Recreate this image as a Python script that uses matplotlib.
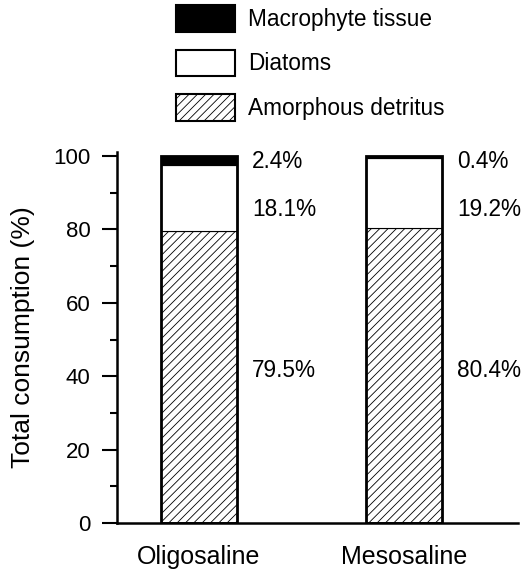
import matplotlib.pyplot as plt
import numpy as np
from matplotlib.patches import Patch

plt.rcParams['font.family'] = ['Liberation Sans', 'DejaVu Sans']
plt.rcParams['hatch.linewidth'] = 0.6
plt.rcParams['hatch.color'] = '#444444'

sites = ['Oligosaline', 'Mesosaline']
detritus = [79.5, 80.4]
diatoms = [18.1, 19.2]
macrophyte = [2.4, 0.4]
series_names = ['Amorphous detritus', 'Diatoms', 'Macrophyte tissue']
label_rows = [41.5, 85.5, 98.5]

fig = plt.figure(figsize=(5.25, 5.73), dpi=100)
ax = fig.add_axes([117 / 525, 1 - 523 / 573, 401 / 525, 371 / 573])

x = np.arange(len(sites))
w = 0.37
det = np.array(detritus)
dia = np.array(diatoms)
mac = np.array(macrophyte)

ax.bar(x, det, w, color='white', edgecolor='black', linewidth=0.8, hatch='////')
ax.bar(x, dia, w, bottom=det, color='white', edgecolor='black', linewidth=0.8)
ax.bar(x, mac, w, bottom=det + dia, color='black', edgecolor='black', linewidth=0.8)
# thick outline round each stack
ax.bar(x, det + dia + mac, w, fill=False, edgecolor='black', linewidth=2.0)

for i in range(len(sites)):
    vals = [detritus[i], diatoms[i], macrophyte[i]]
    for v, yy in zip(vals, label_rows):
        ax.text(x[i] + w / 2 + 0.075, yy, f'{v}%', va='center', ha='left', fontsize=16.3)

ax.set_xlim(-0.4, 1.556)
ax.set_ylim(0, 101.1)
ax.set_yticks([0, 20, 40, 60, 80, 100])
ax.set_yticks(np.arange(10, 100, 20), minor=True)
ax.set_xticks(x)
ax.set_xticklabels(sites)
ax.tick_params(axis='y', which='major', length=11, width=1.5, labelsize=16, pad=8)
ax.tick_params(axis='y', which='minor', length=5, width=1.5)
ax.tick_params(axis='x', length=0, labelsize=18, pad=16)
ax.set_ylabel('Total consumption (%)', fontsize=19, labelpad=13)

for s in ['top', 'right']:
    ax.spines[s].set_visible(False)
for s in ['left', 'bottom']:
    ax.spines[s].set_linewidth(1.8)

handles = [Patch(facecolor='black', edgecolor='black', linewidth=1.5),
           Patch(facecolor='white', edgecolor='black', linewidth=1.5),
           Patch(facecolor='white', edgecolor='black', linewidth=1.5, hatch='////')]
fig.legend(handles, series_names[::-1], loc='upper left',
           bbox_to_anchor=(176 / 525, 1 - 5 / 573), frameon=False,
           fontsize=16.3, handlelength=2.6, handleheight=1.45,
           handletextpad=0.6, labelspacing=0.78, borderpad=0, borderaxespad=0)

fig.savefig('out.png', dpi=100)
